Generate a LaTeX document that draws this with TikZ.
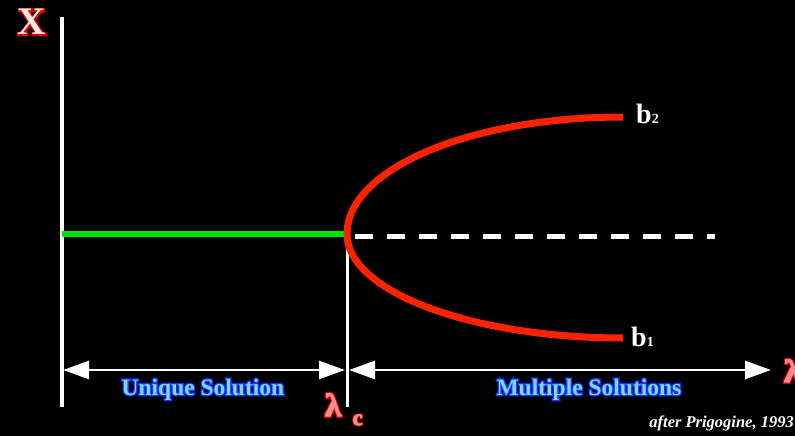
\documentclass[tikz,border=0pt]{standalone}
\usepackage{fontspec}
\setmainfont{Liberation Serif}
\newfontfamily\rimfont[FakeBold=7]{Liberation Serif Bold}
\newfontfamily\glowfont[FakeBold=11]{Liberation Serif Bold}
\newfontfamily\lamfont[FakeBold=4]{Liberation Serif Bold}
\newfontfamily\lamrim[FakeBold=11]{Liberation Serif Bold}
\usetikzlibrary{arrows.meta}
\definecolor{curvered}{RGB}{255,34,0}
\definecolor{branchgreen}{RGB}{0,230,0}
\definecolor{glowblue}{RGB}{20,50,255}
\definecolor{lightblue}{RGB}{125,215,255}
\definecolor{rimred}{RGB}{220,0,0}
\definecolor{xfill}{RGB}{255,235,235}
\definecolor{lamfill}{RGB}{255,140,140}
% name, position, anchor, glow colour, fill colour, size, rim font, fill font, content
\newcommand{\rimlabel}[9]{%
  \node[text=#4,anchor=#3,inner sep=0pt] at (#2) {\fontsize{#6}{#6}#7 #9};
  \node[text=#5,anchor=#3,inner sep=0pt] (#1) at (#2) {\fontsize{#6}{#6}#8 #9};
}
\tikzset{
  axisline/.style={draw=white,line width=3.5pt},
  spanarrow/.style={draw=white,line width=2.5pt,{Triangle[length=26pt,width=18pt]}-{Triangle[length=26pt,width=18pt]}},
  plain/.style={text=white,inner sep=0pt},
}
\begin{document}
\begin{tikzpicture}[x=1pt,y=-1pt]
\fill[black] (0,0) rectangle (795,436);
\useasboundingbox (0,0) rectangle (795,436);
% coordinates
\coordinate (axtop) at (62,17);
\coordinate (axbot) at (62,407);
\coordinate (crit) at (347,234);
\coordinate (critbot) at (347,407);
\coordinate (greenstart) at (62,234);
\coordinate (dashend) at (715,236);
\coordinate (dashstart) at (349,236);
\coordinate (b2end) at (623,117);
\coordinate (b1end) at (623,338);
\coordinate (la) at (63,370);
\coordinate (lb) at (345,370);
\coordinate (ra) at (349,370);
\coordinate (rb) at (771,370);
% axes
\draw[axisline] (axtop) -- (axbot);
\draw[draw=white,line width=3pt] (crit) -- (critbot);
% stable branch
\draw[branchgreen,line width=6.5pt] (greenstart) -- (crit);
% unstable dashed
\draw[white,line width=5pt,dash pattern=on 18pt off 14pt,dash phase=-6pt] (dashstart) -- (dashend);
% bifurcation branches
\draw[curvered,line width=7pt] (b2end) .. controls (470,117) and (347,169) .. (crit)
  .. controls (347,291) and (470,338) .. (b1end);
% span arrows
\draw[spanarrow] (la) -- (lb);
\draw[spanarrow] (ra) -- (rb);
% labels
\rimlabel{xlab}{27,35}{base}{rimred}{xfill}{39}{\rimfont}{\bfseries}{X}
\rimlabel{lamc}{317,416}{base west}{rimred}{lamfill}{32}{\lamrim}{\lamfont}{λ}
\rimlabel{csub}{347,425}{base west}{rimred}{lamfill}{22}{\lamrim}{\lamfont}{c}
\rimlabel{lamr}{776,382}{base west}{rimred}{lamfill}{32}{\lamrim}{\lamfont}{λ}
\rimlabel{uniq}{200,395}{base}{glowblue}{lightblue}{23.5}{\glowfont}{\bfseries}{Unique Solution}
\rimlabel{mult}{586,395}{base}{glowblue}{lightblue}{23.5}{\glowfont}{\bfseries}{Multiple Solutions}
\node[plain,anchor=base west] (btwo) at (636,123) {\fontsize{28}{28}\selectfont\bfseries b{\fontsize{14}{14}\selectfont 2}};
\node[plain,anchor=base west] (bone) at (631,346) {\fontsize{28}{28}\selectfont\bfseries b{\fontsize{14}{14}\selectfont 1}};
\node[plain,anchor=base east] (cite) at (794,427) {\fontsize{16.5}{16.5}\selectfont\bfseries\itshape after Prigogine, 1993};
\end{tikzpicture}
\end{document}
